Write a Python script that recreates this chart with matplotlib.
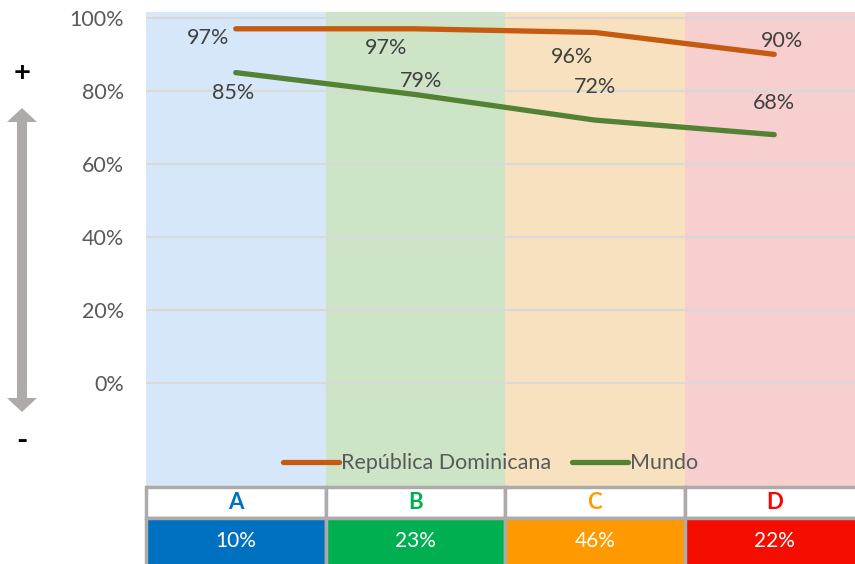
import matplotlib.pyplot as plt
from matplotlib.patches import Rectangle, FancyArrow

plt.rcParams['font.family'] = ['Lato', 'DejaVu Sans']

# chart data
groups = ["A", "B", "C", "D"]
shares = ["10%", "23%", "46%", "22%"]
rep_dom = [97, 97, 96, 90]
mundo = [85, 79, 72, 68]

band_colors = ["#D5E7F9", "#CDE4C7", "#F8E1BF", "#F6CFCE"]
head_colors = ["#0070C0", "#00B050", "#FF9900", "#FF0000"]
cell_colors = ["#0070C0", "#00B050", "#FF9900", "#F50D00"]
text_grey = "#595959"

W, H = 855, 564
fig = plt.figure(figsize=(W / 100, H / 100), dpi=100)

x0, x1 = 146, 855
top, bottom = 12, 487
ax = fig.add_axes([x0 / W, (H - bottom) / H, (x1 - x0) / W, (bottom - top) / H])
xs = list(range(len(groups)))
xmax = -0.5 + (x1 - x0) / 179.5

for i, c in enumerate(band_colors):
    ax.axvspan(i - 0.5, i + 0.5, color=c, lw=0, zorder=0)
for v in range(0, 101, 20):
    ax.axhline(v, color="#D9D9D9", lw=1.5, zorder=1)

ax.plot(xs, rep_dom, color="#C55A11", lw=3.8, solid_capstyle="round", zorder=3,
        label="República Dominicana")
ax.plot(xs, mundo, color="#548235", lw=3.8, solid_capstyle="round", zorder=3,
        label="Mundo")

# value labels next to each point
rd_off = [(-28, -9), (-29, -19), (-23, -25), (8, 13)]
mu_off = [(-3, -20), (6, 14), (0, 33), (0, 32)]
for x, v, (dx, dy) in zip(xs, rep_dom, rd_off):
    ax.annotate(f"{v}%", (x, v), xytext=(dx, dy), textcoords="offset pixels",
                ha="center", va="center", fontsize=15.5, color="#404040", zorder=4)
for x, v, (dx, dy) in zip(xs, mundo, mu_off):
    ax.annotate(f"{v}%", (x, v), xytext=(dx, dy), textcoords="offset pixels",
                ha="center", va="center", fontsize=15.5, color="#404040", zorder=4)

ax.set_xlim(-0.5, xmax)
ax.set_ylim(-28.5, 101.6)
ax.set_yticks(range(0, 101, 20))
ax.set_yticklabels([f"{v}%" for v in range(0, 101, 20)])
ax.tick_params(axis="y", length=0, pad=16, labelsize=15.5, labelcolor=text_grey)
ax.set_xticks([])
for s in ax.spines.values():
    s.set_visible(False)

leg = ax.legend(loc="center", bbox_to_anchor=(0.486, 0.05), ncol=2, frameon=False,
                fontsize=15.5, handlelength=2.6, handletextpad=0.1, columnspacing=1.0)
for t in leg.get_texts():
    t.set_color(text_grey)

# category table under the plot
tax = fig.add_axes([x0 / W, 0, (x1 - x0) / W, (H - bottom) / H])
tax.set_xlim(-0.5, xmax)
tax.set_ylim(0, H - bottom)
tax.axis("off")
row_split = H - 518
for i in xs:
    tax.add_patch(Rectangle((i - 0.5, row_split), 1, H - bottom - row_split,
                            facecolor="white", edgecolor="#AEAAAA", lw=2.5, clip_on=False))
    tax.add_patch(Rectangle((i - 0.5, -2), 1, row_split + 2,
                            facecolor=cell_colors[i], edgecolor="#AEAAAA", lw=2.5, clip_on=False))
    tax.text(i, (row_split + H - bottom) / 2, groups[i], ha="center", va="center",
             fontsize=16, fontweight="bold", color=head_colors[i])
    tax.text(i, row_split / 2, shares[i], ha="center", va="center",
             fontsize=15, color="white")

# up/down arrow on the left
aax = fig.add_axes([0, 0, 1, 1])
aax.set_xlim(0, W)
aax.set_ylim(H, 0)
aax.axis("off")
aax.add_patch(FancyArrow(22, 260, 0, -152, width=10, head_width=30, head_length=14,
                         length_includes_head=True, color="#AEAAAA", lw=0))
aax.add_patch(FancyArrow(22, 258, 0, 154, width=10, head_width=30, head_length=14,
                         length_includes_head=True, color="#AEAAAA", lw=0))
aax.text(22, 73, "+", ha="center", va="center", fontsize=21, fontweight="bold", color="black")
aax.text(22, 441, "-", ha="center", va="center", fontsize=22, fontweight="bold", color="black")

fig.savefig("out.png", dpi=100)
